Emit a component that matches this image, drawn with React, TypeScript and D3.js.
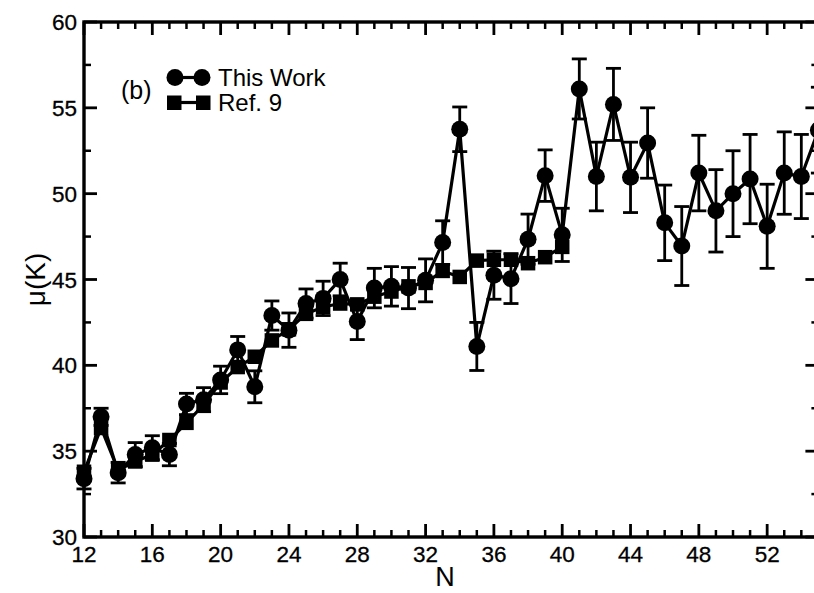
import React from "react";
import * as d3 from "d3";

// Cluster size N and chemical potential μ (K)
const clusterSizes = [
  12, 13, 14, 15, 16, 17, 18, 19, 20, 21, 22, 23, 24, 25, 26, 27, 28, 29, 30, 31, 32, 33,
  34, 35, 36, 37, 38, 39, 40, 41, 42, 43, 44, 45, 46, 47, 48, 49, 50, 51, 52, 53, 54, 55,
];
const thisWorkMu = [
  33.4, 37.0, 33.75, 34.8, 35.2, 34.8, 37.75, 38.0, 39.15, 40.9, 38.75, 42.9, 42.05, 43.6,
  43.9, 45.0, 42.55, 44.5, 44.6, 44.5, 44.95, 47.15, 53.75, 41.1, 45.25, 45.05, 47.35, 51.05,
  47.6, 56.1, 51.0, 55.2, 50.95, 52.95, 48.3, 46.95, 51.2, 49.0, 50.0, 50.85, 48.1, 51.2, 51.0,
  53.7,
];
const thisWorkErr = [
  0.6, 0.5, 0.6, 0.7, 0.7, 0.65, 0.62, 0.7, 0.8, 0.78, 0.93, 0.85, 1.0, 0.85, 1.0, 0.95, 1.05,
  1.15, 1.15, 1.2, 1.25, 1.27, 1.3, 1.4, 1.4, 1.45, 1.46, 1.5, 1.55, 1.75, 2.0, 2.1, 2.05, 2.05,
  2.2, 2.3, 2.2, 2.4, 2.5, 2.6, 2.45, 2.4, 2.45, 2.5,
];
const ref9Sizes = [
  12, 13, 14, 15, 16, 17, 18, 19, 20, 21, 22, 23, 24, 25, 26, 27, 28, 29, 30, 31, 32, 33, 34,
  35, 36, 37, 38, 39, 40,
];
const ref9Mu = [
  33.8, 36.35, 33.9, 34.4, 34.8, 35.65, 36.65, 37.7, 39.0, 39.9, 40.5, 41.45, 42.1, 43.0, 43.4,
  43.6, 43.55, 44.0, 44.3, 44.6, 44.8, 45.5, 45.15, 46.1, 46.15, 46.15, 45.95, 46.3, 46.9,
];
const xMajorTicks = [12, 16, 20, 24, 28, 32, 36, 40, 44, 48, 52];
const yMajorTicks = [30, 35, 40, 45, 50, 55, 60];
const legendLabels = ["This Work", "Ref. 9"];

const W = 814;
const H = 593;
const FONT = "'Liberation Sans', Arial, Helvetica, sans-serif";

export default function App() {
  const x = d3.scaleLinear().domain([12, 55]).range([84, 818.4]);
  const y = d3.scaleLinear().domain([30, 60]).range([537, 22]);
  const [x0, x1] = x.range();
  const [y0, y1] = y.range();

  const workPts = clusterSizes.map((n, i) => ({ n, v: thisWorkMu[i], e: thisWorkErr[i] }));
  const refPts = ref9Sizes.map((n, i) => ({ n, v: ref9Mu[i] }));

  const line = d3
    .line<{ n: number; v: number }>()
    .x((d) => x(d.n))
    .y((d) => y(d.v));

  const xMinor = d3.range(12, 56, 1).filter((t) => !xMajorTicks.includes(t));
  const yMinor = d3.range(30, 60.01, 2.5).filter((t) => !yMajorTicks.includes(t));

  const majorLen = 13;
  const minorLen = 7;
  const r = 8.5;
  const sq = 14.5;
  const cap = 7.5;

  return (
    <svg
      width={W}
      height={H}
      style={{ position: "absolute", left: 0, top: 0, background: "#fff" }}
    >
      <rect width={W} height={H} fill="#fff" />

      {/* Ref. 9 series */}
      <path d={line(refPts) || ""} fill="none" stroke="#000" strokeWidth={3.2} />
      {refPts.map((d) => (
        <rect
          key={"s" + d.n}
          x={x(d.n) - sq / 2}
          y={y(d.v) - sq / 2}
          width={sq}
          height={sq}
          fill="#000"
        />
      ))}

      {/* This work series with error bars */}
      <g stroke="#000" strokeWidth={2.8}>
        {workPts.map((d) => (
          <g key={"e" + d.n}>
            <line x1={x(d.n)} x2={x(d.n)} y1={y(d.v - d.e)} y2={y(d.v + d.e)} />
            <line x1={x(d.n) - cap} x2={x(d.n) + cap} y1={y(d.v + d.e)} y2={y(d.v + d.e)} />
            <line x1={x(d.n) - cap} x2={x(d.n) + cap} y1={y(d.v - d.e)} y2={y(d.v - d.e)} />
          </g>
        ))}
      </g>
      <path d={line(workPts) || ""} fill="none" stroke="#000" strokeWidth={3.2} />
      {workPts.map((d) => (
        <circle key={"c" + d.n} cx={x(d.n)} cy={y(d.v)} r={r} fill="#000" />
      ))}

      {/* Frame and inward ticks */}
      <g stroke="#000">
        <rect x={x0} y={y1} width={x1 - x0} height={y0 - y1} fill="none" strokeWidth={3.4} />
        {xMajorTicks.map((t) => (
          <g key={"xm" + t} strokeWidth={2.8}>
            <line x1={x(t)} x2={x(t)} y1={y0} y2={y0 - majorLen} />
            <line x1={x(t)} x2={x(t)} y1={y1} y2={y1 + majorLen} />
          </g>
        ))}
        {xMinor.map((t) => (
          <g key={"xn" + t} strokeWidth={2.5}>
            <line x1={x(t)} x2={x(t)} y1={y0} y2={y0 - minorLen} />
            <line x1={x(t)} x2={x(t)} y1={y1} y2={y1 + minorLen} />
          </g>
        ))}
        {yMajorTicks.map((t) => (
          <g key={"ym" + t} strokeWidth={2.8}>
            <line x1={x0} x2={x0 + majorLen} y1={y(t)} y2={y(t)} />
            <line x1={x1} x2={x1 - majorLen} y1={y(t)} y2={y(t)} />
          </g>
        ))}
        {yMinor.map((t) => (
          <g key={"yn" + t} strokeWidth={2.5}>
            <line x1={x0} x2={x0 + minorLen} y1={y(t)} y2={y(t)} />
            <line x1={x1} x2={x1 - minorLen} y1={y(t)} y2={y(t)} />
          </g>
        ))}
      </g>

      {/* Tick labels */}
      <g fontFamily={FONT} fontSize={22.5} fill="#000" stroke="#000" strokeWidth={0.3}>
        {xMajorTicks.map((t) => (
          <text key={"xl" + t} x={x(t)} y={y0 + 25} textAnchor="middle">
            {t}
          </text>
        ))}
        {yMajorTicks.map((t) => (
          <text key={"yl" + t} x={x0 - 7} y={y(t) + 8} textAnchor="end">
            {t}
          </text>
        ))}
      </g>

      {/* Axis titles */}
      <text x={445} y={586} fontFamily={FONT} fontSize={27} textAnchor="middle">
        N
      </text>
      <text
        transform={`translate(45, ${y(45)}) rotate(-90)`}
        fontFamily={FONT}
        fontSize={28}
        textAnchor="middle"
      >
        μ(K)
      </text>

      {/* Panel tag and legend */}
      <text x={121} y={99} fontFamily={FONT} fontSize={25}>
        (b)
      </text>
      <g>
        <line x1={175} x2={202} y1={77.5} y2={77.5} stroke="#000" strokeWidth={3.2} />
        <circle cx={175} cy={77.5} r={r} fill="#000" />
        <circle cx={202} cy={77.5} r={r} fill="#000" />
        <line x1={174} x2={203} y1={102.5} y2={102.5} stroke="#000" strokeWidth={3.2} />
        <rect x={167} y={95.5} width={sq} height={sq} fill="#000" />
        <rect x={196} y={95.5} width={sq} height={sq} fill="#000" />
        <text x={218} y={86} fontFamily={FONT} fontSize={24}>
          {legendLabels[0]}
        </text>
        <text x={218} y={111} fontFamily={FONT} fontSize={24}>
          {legendLabels[1]}
        </text>
      </g>
    </svg>
  );
}
